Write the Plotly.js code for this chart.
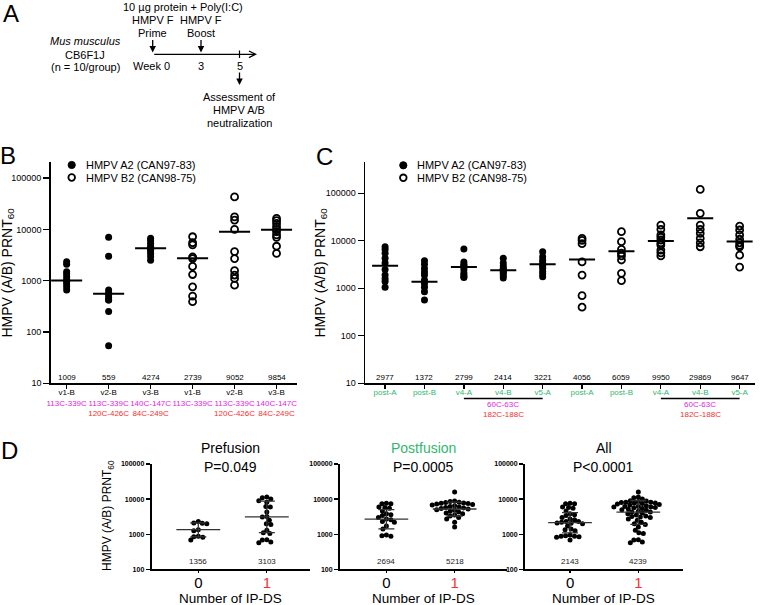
<!DOCTYPE html>
<html><head><meta charset="utf-8">
<script src="https://cdn.plot.ly/plotly-3.0.1.min.js"></script>
<style>html,body{margin:0;padding:0;background:#fff}#chart{width:760px;height:605px}</style>
</head><body><div id="chart"></div>
<script>
// ---------- DATA ----------
// Panel B
const bCategories = ['v1-B','v2-B','v3-B','v1-B','v2-B','v3-B'];
const bSub1 = ['113C-339C','113C-339C','140C-147C','113C-339C','113C-339C','140C-147C'];
const bSub2 = ['','120C-426C','84C-249C','','120C-426C','84C-249C'];
const bMeans = [1009, 559, 4274, 2739, 9052, 9854];
const bA2_v1 = [2350, 2100, 1500, 1350, 1200, 1060, 950, 860, 760, 660];
const bA2_v2 = [7000, 3000, 660, 580, 525, 470, 420, 420, 250, 54];
const bA2_v3 = [6700, 6000, 5300, 4700, 4250, 4050, 3850, 3400, 2950, 2500];
const bB2_v1 = [7200, 5500, 5000, 2900, 2700, 1900, 1320, 760, 500, 390];
const bB2_v2 = [43000, 17600, 15200, 10000, 3700, 2700, 1570, 1290, 1110, 820];
const bB2_v3 = [16400, 14800, 13100, 11300, 10000, 9000, 7800, 7000, 4700, 3400];

// Panel C
const cCategories = ['post-A','post-B','v4-A','v4-B','v5-A','post-A','post-B','v4-A','v4-B','v5-A'];
const cMeans = [2977, 1372, 2799, 2414, 3221, 4056, 6059, 9950, 29869, 9647];
const cA2_postA = [7500, 6600, 5500, 4300, 3400, 2500, 1900, 1600, 1400, 1050];
const cA2_postB = [3800, 3200, 2600, 2200, 1900, 1500, 1250, 1050, 850, 570];
const cA2_v4A = [6700, 3600, 3200, 3000, 2850, 2500, 2100, 1900, 1750, 1700];
const cA2_v4B = [4300, 3400, 2950, 2650, 2500, 2350, 2200, 2050, 1850, 1650];
const cA2_v5A = [5900, 4600, 3900, 3400, 3100, 2950, 2650, 2250, 2000, 1750];
const cB2_postA = [11300, 10200, 8700, 3600, 1900, 700, 400];
const cB2_postB = [15600, 9600, 6600, 5500, 4800, 3950, 2070, 1450];
const cB2_v4A = [21500, 17500, 13300, 11900, 10400, 9000, 8200, 6400, 5600, 4800];
const cB2_v4B = [121000, 38000, 21500, 17500, 14400, 11300, 9100, 7500];
const cB2_v5A = [20500, 16900, 13300, 10800, 9100, 8000, 7500, 5000, 2800];

// Panel D
const dGroups = ['0', '1'];
const dPre0 = [2300, 2100, 2050, 2000, 1350, 1250, 880, 850, 820, 680];
const dPre1 = [11400, 11000, 10000, 9000, 8200, 6200, 6000, 4300, 3200, 3100, 2500, 2000, 1900, 1300, 1100, 1050, 700, 680, 600, 570];
const dPost0 = [7600, 7400, 7400, 6000, 5800, 5500, 4600, 3800, 3600, 3400, 3000, 2700, 2600, 2300, 2200, 1700, 1400, 950, 900, 880];
const dPost1 = [16000, 8800, 8500, 8200, 8000, 7800, 7600, 7500, 7200, 7000, 6800, 6500, 6200, 6000, 5800, 5600, 5400, 5200, 5000, 4800, 4500, 4300, 4000, 3800, 3500, 3300, 3000, 2700, 2200, 1600];
const dPreMeans = [1356, 3103];
const dPostMeans = [2694, 5218];
const dAllMeans = [2143, 4239];
const dPreLower = [840, 1110], dPreUpper = [2090, 8770];
const dPostLower = [1410, 3300], dPostUpper = [5000, 8220];
const dAllLower = [1090, 1910], dAllUpper = [4100, 9120];
const dTitles = ['Prefusion', 'Postfusion', 'All'];
const dPvals = ['P=0.049', 'P=0.0005', 'P<0.0001'];
const yTicksB = [10, 100, 1000, 10000, 100000];
const yTicksD = [100, 1000, 10000, 100000];

// ---------- STYLE ----------
const FONT = 'Liberation Sans, Arial, sans-serif';
const MAG = '#e125e1', RED = '#f53030', GREEN = '#2fb86d';
const W = 760, H = 605;
const px = v => v / W, py = v => 1 - v / H;

const traces = [];
const annotations = [];
const shapes = [];

function columns(groups, startIdx) {
  const x = [], y = [];
  groups.forEach((g, i) => g.forEach(v => { x.push(startIdx + i); y.push(v); }));
  return {x, y};
}
function meanLines(means, half) {
  const x = [], y = [];
  means.forEach((m, i) => { x.push(i - half, i + half, null); y.push(m, m, null); });
  return {x, y};
}

// ---- Panel B traces
let f = columns([bA2_v1, bA2_v2, bA2_v3], 0);
traces.push({type:'scatter', mode:'markers', x:f.x, y:f.y, xaxis:'x', yaxis:'y',
  marker:{symbol:'circle', size:7, color:'#000'}, hoverinfo:'skip'});
f = columns([bB2_v1, bB2_v2, bB2_v3], 3);
traces.push({type:'scatter', mode:'markers', x:f.x, y:f.y, xaxis:'x', yaxis:'y',
  marker:{symbol:'circle-open', size:7, color:'#000', line:{width:1.8}}, hoverinfo:'skip'});
f = meanLines(bMeans, 0.37);
traces.push({type:'scatter', mode:'lines', x:f.x, y:f.y, xaxis:'x', yaxis:'y',
  line:{color:'#000', width:2}, hoverinfo:'skip'});

// ---- Panel C traces
f = columns([cA2_postA, cA2_postB, cA2_v4A, cA2_v4B, cA2_v5A], 0);
traces.push({type:'scatter', mode:'markers', x:f.x, y:f.y, xaxis:'x2', yaxis:'y2',
  marker:{symbol:'circle', size:7, color:'#000'}, hoverinfo:'skip'});
f = columns([cB2_postA, cB2_postB, cB2_v4A, cB2_v4B, cB2_v5A], 5);
traces.push({type:'scatter', mode:'markers', x:f.x, y:f.y, xaxis:'x2', yaxis:'y2',
  marker:{symbol:'circle-open', size:7, color:'#000', line:{width:1.8}}, hoverinfo:'skip'});
f = meanLines(cMeans, 0.33);
traces.push({type:'scatter', mode:'lines', x:f.x, y:f.y, xaxis:'x2', yaxis:'y2',
  line:{color:'#000', width:2}, hoverinfo:'skip'});

// ---- Panel D
function swarm(vals, center, pxX, pxDec, d) {
  const order = vals.map((v, i) => i).sort((a, b) => vals[b] - vals[a]);
  const placed = [], xs = new Array(vals.length);
  for (const i of order) {
    const yy = Math.log10(vals[i]) * pxDec;
    let best = 0;
    for (let k = 0; k < 400; k++) {
      const off = ((k % 2) ? -1 : 1) * Math.ceil(k / 2) * 0.5;
      if (placed.every(p => (p.x - off) ** 2 + (p.y - yy) ** 2 >= d * d)) { best = off; break; }
    }
    placed.push({x: best, y: yy});
    xs[i] = center + best / pxX;
  }
  return xs;
}
const dSets = [
  {g0: dPre0, g1: dPre1, means: dPreMeans, lo: dPreLower, hi: dPreUpper},
  {g0: dPost0, g1: dPost1, means: dPostMeans, lo: dPostLower, hi: dPostUpper},
  {g0: dPre0.concat(dPost0), g1: dPre1.concat(dPost1), means: dAllMeans, lo: dAllLower, hi: dAllUpper}
];
dSets.forEach((s, k) => {
  const xa = 'x' + (k + 3), ya = 'y' + (k + 3);
  const x = swarm(s.g0, 0, 68.4, 35.1, 4.3).concat(swarm(s.g1, 1, 68.4, 35.1, 4.3));
  const y = s.g0.concat(s.g1);
  traces.push({type:'scatter', mode:'markers', x, y, xaxis:xa, yaxis:ya,
    marker:{symbol:'circle', size:5, color:'#000'}, hoverinfo:'skip'});
  const ml = meanLines(s.means, 0.32);
  traces.push({type:'scatter', mode:'lines', x:ml.x, y:ml.y, xaxis:xa, yaxis:ya,
    line:{color:'#333', width:1.3}, hoverinfo:'skip'});
  traces.push({type:'scatter', mode:'markers', x:[0, 1], y:s.means, xaxis:xa, yaxis:ya,
    marker:{size:1, opacity:0}, hoverinfo:'skip',
    error_y:{type:'data', symmetric:false, array:s.hi.map((h, i) => h - s.means[i]),
      arrayminus:s.means.map((m, i) => m - s.lo[i]), width:8, thickness:1.3, color:'#333'}});
});

// ---------- AXES ----------
const axLine = {showline:true, linecolor:'#000', linewidth:1.5, showgrid:false, zeroline:false,
  ticks:'outside', tickcolor:'#000', tickwidth:1.3, tickangle:0};
const bTickText = bCategories.map((c, i) => c +
  '<br><span style="color:' + MAG + '">' + bSub1[i] + '</span>' +
  (bSub2[i] ? '<br><span style="color:' + RED + '">' + bSub2[i] + '</span>' : ''));

const layout = {
  width: W, height: H, margin:{l:0, r:0, t:0, b:0},
  paper_bgcolor:'#fff', plot_bgcolor:'rgba(0,0,0,0)', showlegend:false,
  font:{family:FONT, color:'#000'},
  xaxis: Object.assign({}, axLine, {domain:[px(50.7), px(296.7)], range:[-0.38, 5.48], anchor:'y',
    tickmode:'array', tickvals:[0,1,2,3,4,5], ticktext:bTickText, ticklen:4, ticklabelstandoff:-3,
    tickfont:{size:8, color:'#000'}}),
  yaxis: Object.assign({}, axLine, {type:'log', domain:[py(383.3), py(161.7)], range:[1, 5.32], anchor:'x',
    tickmode:'array', tickvals:yTicksB, ticktext:yTicksB.map(String), ticklen:6, tickfont:{size:9, color:'#000'}}),
  xaxis2: Object.assign({}, axLine, {domain:[px(365), px(755)], range:[-0.51, 9.39], anchor:'y2',
    tickmode:'array', tickvals:[0,1,2,3,4,5,6,7,8,9], ticktext:cCategories, ticklen:4, ticklabelstandoff:-3,
    tickfont:{size:8, color:GREEN}}),
  yaxis2: Object.assign({}, axLine, {type:'log', domain:[py(383.3), py(162)], range:[1, 5.66], anchor:'x2',
    tickmode:'array', tickvals:yTicksB, ticktext:yTicksB.map(String), ticklen:6, tickfont:{size:9, color:'#000'}}),
  annotations, shapes
};
const dDomains = [[151.7, 310], [340, 506.5], [525, 682.7]];
const dRanges = [[-0.68, 1.63], [-0.68, 1.76], [-0.66, 1.65]];
dDomains.forEach((d, k) => {
  const n = k + 3;
  layout['xaxis' + n] = Object.assign({}, axLine, {domain:[px(d[0]), px(d[1])], range:dRanges[k],
    anchor:'y' + n, linewidth:2, tickmode:'array', tickvals:[0, 1],
    ticktext:['0', '<span style="color:' + RED + '">1</span>'], ticklen:2, ticklabelstandoff:-3,
    tickfont:{size:15, color:'#000'}});
  layout['yaxis' + n] = Object.assign({}, axLine, {type:'log', domain:[py(569.3), py(464)], range:[2, 5],
    anchor:'x' + n, linewidth:2, tickmode:'array', tickvals:yTicksD, ticktext:yTicksD.map(String),
    ticklen:4, tickfont:{size:7, weight:'bold', color:'#000'}});
});

// ---------- ANNOTATIONS ----------
function txt(t, x, y, size, opts) {
  annotations.push(Object.assign({text:t, x:px(x), y:py(y), xref:'paper', yref:'paper',
    showarrow:false, xanchor:'center', yanchor:'middle', font:{size, family:FONT, color:'#000'}}, opts || {}));
}
// Panel A
txt('A', 10.5, 13.5, 24);
txt('10 µg protein + Poly(I:C)', 182.7, 6.5, 11);
txt('HMPV F', 152.7, 20, 11); txt('HMPV F', 201, 20, 11);
txt('Prime', 152.7, 33.5, 11); txt('Boost', 201, 33.5, 11);
txt('<i>Mus musculus</i>', 85, 41, 11);
txt('CB6F1J', 85, 55, 11);
txt('(n = 10/group)', 85, 67.5, 11);
txt('Week 0', 151.7, 65.5, 11); txt('3', 200.5, 65.5, 11); txt('5', 239.5, 65.5, 11);
txt('Assessment of', 239.3, 96.5, 11);
txt('HMPV A/B', 239.3, 110, 11);
txt('neutralization', 239.3, 123.3, 11);
function arrow(xh, yh, ax, ay, head) {
  annotations.push({x:px(xh), y:py(yh), xref:'paper', yref:'paper', text:'', showarrow:true,
    ax, ay, axref:'pixel', ayref:'pixel', arrowhead:head, arrowsize:1, arrowwidth:1.3,
    arrowcolor:'#000', standoff:0, startstandoff:0});
}
arrow(152.7, 52.5, 0, -14, 2);
arrow(201, 52.5, 0, -14, 2);
arrow(257, 54.3, -104.3, 0, 5);
arrow(239.5, 85, 0, -14, 2);
shapes.push({type:'line', xref:'paper', yref:'paper', x0:px(239.5), x1:px(239.5), y0:py(50.5), y1:py(58),
  line:{color:'#000', width:1.2}});

// Panel labels
txt('B', 8, 155, 24);
txt('C', 324, 156, 24);
txt('D', 9, 450, 24);

// y titles
const yTitle = 'HMPV (A/B) PRNT<sub>60</sub>';
txt(yTitle, 8, 272.5, 14, {textangle:-90});
txt(yTitle, 321, 272.5, 14, {textangle:-90});
txt(yTitle, 108, 516, 12, {textangle:-90});

// legends B & C
function legend(x0, yTop) {
  shapes.push({type:'circle', xref:'paper', yref:'paper', xsizemode:'pixel', ysizemode:'pixel',
    xanchor:px(x0), yanchor:py(yTop), x0:-3.6, x1:3.6, y0:-3.6, y1:3.6, fillcolor:'#000', line:{color:'#000', width:1}});
  shapes.push({type:'circle', xref:'paper', yref:'paper', xsizemode:'pixel', ysizemode:'pixel',
    xanchor:px(x0), yanchor:py(yTop + 12.5), x0:-3.3, x1:3.3, y0:-3.3, y1:3.3, fillcolor:'#fff', line:{color:'#000', width:1.8}});
  txt('HMPV A2 (CAN97-83)', x0 + 12, yTop, 11, {xanchor:'left'});
  txt('HMPV B2 (CAN98-75)', x0 + 12, yTop + 12.5, 11, {xanchor:'left'});
}
legend(71.7, 165);
legend(403.3, 165.3);

// mean labels above x axis
bMeans.forEach((m, i) => annotations.push({text:String(m), x:i, y:0, xref:'x', yref:'y domain',
  xanchor:'center', yanchor:'bottom', showarrow:false, yshift:-1, font:{size:8, family:FONT, color:'#000'}}));
cMeans.forEach((m, i) => annotations.push({text:String(m), x:i, y:0, xref:'x2', yref:'y2 domain',
  xanchor:'center', yanchor:'bottom', showarrow:false, yshift:-1, font:{size:8, family:FONT, color:'#000'}}));

// C disulfide brackets
[[2, 4], [7, 9]].forEach(b => {
  shapes.push({type:'line', xref:'x2', yref:'paper', x0:b[0], x1:b[1], y0:py(398.5), y1:py(398.5),
    line:{color:'#000', width:1.5}});
  const mid = (b[0] + b[1]) / 2;
  annotations.push({text:'60C-63C', x:mid, y:py(404.5), xref:'x2', yref:'paper', showarrow:false,
    xanchor:'center', yanchor:'middle', font:{size:8, family:FONT, color:MAG}});
  annotations.push({text:'182C-188C', x:mid, y:py(414.5), xref:'x2', yref:'paper', showarrow:false,
    xanchor:'center', yanchor:'middle', font:{size:8, family:FONT, color:RED}});
});

// D titles, p-values, mean labels, x titles
dSets.forEach((s, k) => {
  const n = k + 3;
  annotations.push({text:dTitles[k], x:0.5, y:py(448), xref:'x' + n + ' domain', yref:'paper',
    xanchor:'center', yanchor:'middle', showarrow:false, font:{size:14, family:FONT, color:k === 1 ? GREEN : '#000'}});
  annotations.push({text:dPvals[k], x:0.5, y:py(467), xref:'x' + n + ' domain', yref:'paper',
    xanchor:'center', yanchor:'middle', showarrow:false, font:{size:14, family:FONT, color:'#000'}});
  annotations.push({text:'Number of IP-DS', x:0.5, y:py(598), xref:'x' + n + ' domain', yref:'paper',
    xanchor:'center', yanchor:'middle', showarrow:false, font:{size:13.5, family:FONT, color:'#000'}});
  s.means.forEach((m, i) => annotations.push({text:String(m), x:i, y:0, xref:'x' + n, yref:'y' + n + ' domain',
    xanchor:'center', yanchor:'bottom', yshift:1, showarrow:false, font:{size:8, family:FONT, color:'#222'}}));
});

Plotly.newPlot('chart', traces, layout, {displayModeBar:false, staticPlot:true});
</script></body></html>
